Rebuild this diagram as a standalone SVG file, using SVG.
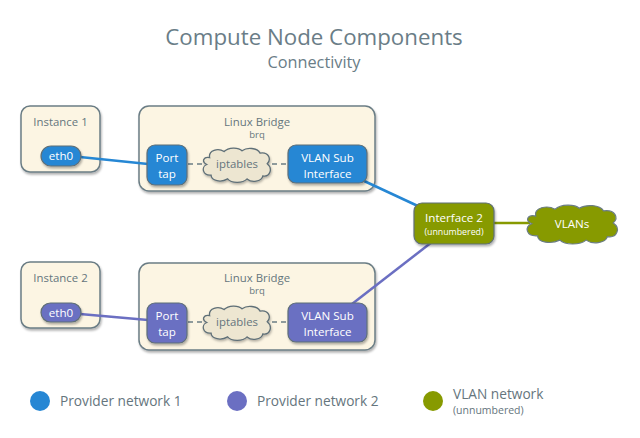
<svg xmlns="http://www.w3.org/2000/svg" width="640" height="438" viewBox="0 0 640 438">
  <defs>
    <filter id="shadow" x="-20%" y="-20%" width="140%" height="150%">
      <feDropShadow dx="1" dy="2" stdDeviation="1.3" flood-color="#000" flood-opacity="0.3"/>
    </filter>
    <!-- unit cloud, 100 x 46 -->
    <path id="cloud" d="M12,14 C10,4 24,1 32,6 C38,0 52,0 57,5 C64,0 78,1 82,8 C94,6 98,16 92,22 C100,28 96,40 86,38 C84,46 70,47 64,42 C58,48 42,48 37,42 C28,47 14,45 14,37 C2,38 0,26 8,23 C0,19 4,12 12,14 Z" vector-effect="non-scaling-stroke"/>
  </defs>
  <style>
    text { font-family: "Open Sans", "Noto Sans", "Liberation Sans", sans-serif; text-anchor: middle; }
    .title { font-size: 22.3px; fill: #6a7d87; }
    .subtitle { font-size: 16.3px; fill: #6a7d87; }
    .label { font-size: 11.4px; fill: #65757d; }
    .small { font-size: 9.5px; fill: #65757d; }
    .white { font-size: 11.6px; fill: #ffffff; }
    .whitesmall { font-size: 8.8px; fill: #ffffff; }
    .legend { font-size: 13.7px; fill: #65757d; text-anchor: start; }
    .legendsmall { font-size: 10.5px; fill: #65757d; text-anchor: start; }
    .panel { fill: #fcf5e3; stroke: #6b7d85; stroke-width: 1.5; filter: url(#shadow); }
    .blue { fill: #2687d4; stroke: #5f6f77; stroke-width: 1.2; filter: url(#shadow); }
    .purple { fill: #6b6fc2; stroke: #5f6f77; stroke-width: 1.2; filter: url(#shadow); }
    .green { fill: #879a00; stroke: #5f6f77; stroke-width: 1.2; filter: url(#shadow); }
    .fw { fill: #ede6d1; stroke: #5f6f77; stroke-width: 1.3; filter: url(#shadow); }
    .vlancloud { fill: #879a00; stroke: #6b7d85; stroke-width: 1.2; }
    .dash { stroke: #6b7d85; stroke-width: 1.5; stroke-dasharray: 5 4; fill: none; }
    .wire-blue { stroke: #2687d4; stroke-width: 2.5; fill: none; }
    .wire-purple { stroke: #6b6fc2; stroke-width: 2.5; fill: none; }
    .wire-green { stroke: #879a00; stroke-width: 2.5; fill: none; }
  </style>

  <rect width="640" height="438" fill="#ffffff"/>

  <text class="title" x="314" y="45">Compute Node Components</text>
  <text class="subtitle" x="314" y="68">Connectivity</text>

  <!-- host containers -->
  <g id="instance1">
    <rect class="panel" x="21" y="106" width="79" height="66" rx="9"/>
    <text class="label" x="60.5" y="126">Instance 1</text>
  </g>
  <g id="bridge1">
    <rect class="panel" x="139" y="106" width="236" height="85" rx="10"/>
    <text class="label" x="257" y="126">Linux Bridge</text>
    <text class="small" x="257" y="138">brq</text>
  </g>
  <g id="instance2">
    <rect class="panel" x="21" y="262" width="79" height="66" rx="9"/>
    <text class="label" x="60.5" y="282">Instance 2</text>
  </g>
  <g id="bridge2">
    <rect class="panel" x="139" y="263" width="236" height="87" rx="10"/>
    <text class="label" x="257" y="282">Linux Bridge</text>
    <text class="small" x="257" y="294">brq</text>
  </g>

  <!-- wires -->
  <g id="connectors">
    <line class="wire-blue" x1="80" y1="157" x2="148" y2="164"/>
    <line class="wire-blue" x1="362" y1="180" x2="420" y2="207"/>
    <line class="wire-purple" x1="80" y1="314" x2="148" y2="320"/>
    <line class="wire-purple" x1="352" y1="304" x2="432" y2="242"/>
    <line class="wire-green" x1="493" y1="223" x2="530" y2="223"/>
    <line class="dash" x1="188" y1="164" x2="203" y2="164"/>
    <line class="dash" x1="272" y1="164" x2="288" y2="164"/>
    <line class="dash" x1="188" y1="322" x2="203" y2="322"/>
    <line class="dash" x1="272" y1="322" x2="288" y2="322"/>
  </g>

  <g id="eth0-1">
    <rect class="blue" x="41" y="146" width="40" height="20" rx="10"/>
    <text class="white" x="61" y="160">eth0</text>
  </g>
  <g id="porttap1">
    <rect class="blue" x="147" y="145" width="40" height="40" rx="8"/>
    <text class="white" x="167" y="162">Port</text>
    <text class="white" x="167" y="178">tap</text>
  </g>
  <g id="iptables1">
    <use href="#cloud" class="fw" transform="translate(201,147) scale(0.72,0.76)"/>
    <text class="label" x="237" y="168">iptables</text>
  </g>
  <g id="vlansub1">
    <rect class="blue" x="288" y="145" width="79" height="38" rx="8"/>
    <text class="white" x="327.5" y="162">VLAN Sub</text>
    <text class="white" x="327.5" y="178">Interface</text>
  </g>

  <g id="eth0-2">
    <rect class="purple" x="41" y="303" width="40" height="19" rx="9.5"/>
    <text class="white" x="61" y="317">eth0</text>
  </g>
  <g id="porttap2">
    <rect class="purple" x="147" y="303" width="40" height="40" rx="8"/>
    <text class="white" x="167" y="320">Port</text>
    <text class="white" x="167" y="336">tap</text>
  </g>
  <g id="iptables2">
    <use href="#cloud" class="fw" transform="translate(201,305) scale(0.72,0.76)"/>
    <text class="label" x="237" y="326">iptables</text>
  </g>
  <g id="vlansub2">
    <rect class="purple" x="288" y="303" width="79" height="39" rx="8"/>
    <text class="white" x="327.5" y="320">VLAN Sub</text>
    <text class="white" x="327.5" y="336">Interface</text>
  </g>

  <!-- uplink -->
  <g id="interface2">
    <rect class="green" x="414" y="203" width="80" height="41" rx="8"/>
    <text class="white" x="454" y="222">Interface 2</text>
    <text class="whitesmall" x="454" y="235">(unnumbered)</text>
  </g>
  <g id="vlans">
    <use href="#cloud" class="vlancloud" transform="translate(524,204) scale(0.97,0.86)"/>
    <text class="white" x="572" y="228">VLANs</text>
  </g>

  <!-- legend -->
  <g id="legend">
    <circle cx="40" cy="401" r="10" fill="#2687d4"/>
    <text class="legend" x="60" y="406">Provider network 1</text>
    <circle cx="237" cy="401" r="10" fill="#6b6fc2"/>
    <text class="legend" x="257" y="406">Provider network 2</text>
    <circle cx="433" cy="401" r="10" fill="#879a00"/>
    <text class="legend" x="453" y="399">VLAN network</text>
    <text class="legendsmall" x="453" y="414">(unnumbered)</text>
  </g>
</svg>
